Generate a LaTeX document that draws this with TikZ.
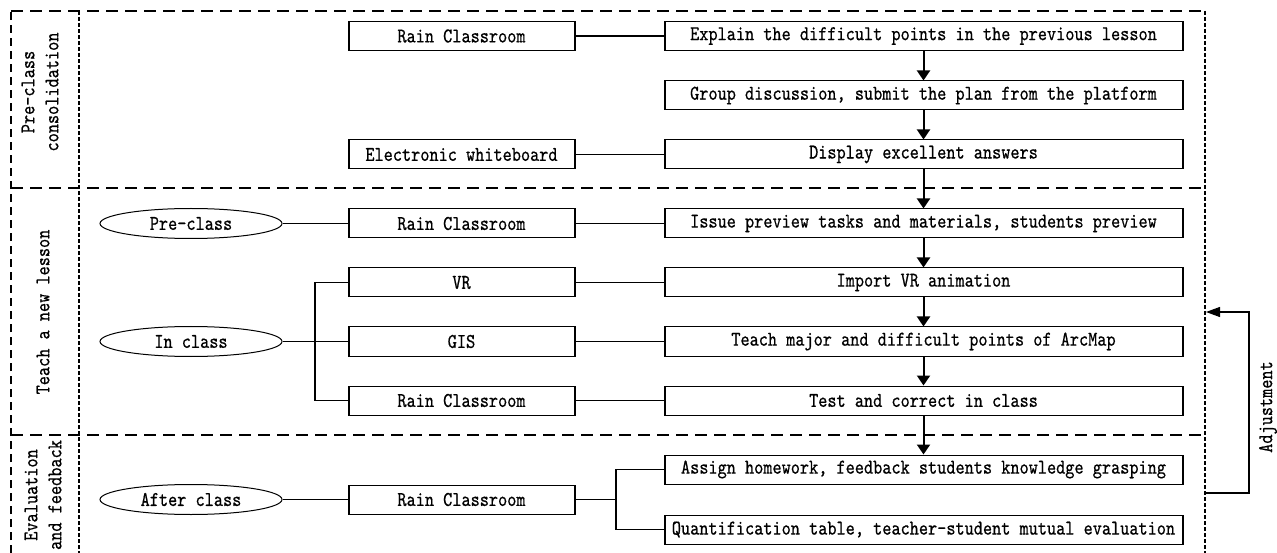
\documentclass[tikz,border=0pt]{standalone}
\usepackage{fontspec}
\usetikzlibrary{shapes.geometric,arrows.meta}
\newfontfamily\simfont[FakeStretch=0.83,FakeBold=0.6]{lmmono10-regular.otf}
\newcommand\simsize{\simfont\fontsize{21}{24}\selectfont}
\tikzset{
  basebox/.style={draw, line width=1pt, minimum height=29pt, inner sep=0pt,
    font=\simsize,
    path picture={\draw[line width=3pt]
      (path picture bounding box.north west) -- (path picture bounding box.south west)
      (path picture bounding box.north east) -- (path picture bounding box.south east);}},
  lbox/.style={basebox, minimum width=227pt},
  rbox/.style={basebox, minimum width=519pt},
  ell/.style={ellipse, draw, line width=1pt, minimum width=182pt, minimum height=30pt, inner sep=0pt,
    font=\simsize},
  conn/.style={line width=1.2pt},
  flow/.style={line width=2pt, -{Triangle[width=13pt,length=10pt]}},
  adjarrow/.style={line width=1.2pt, -{Triangle[width=10pt,length=14pt]}},
  frameline/.style={line width=1.2pt, dash pattern=on 12pt off 7pt},
  sideline/.style={line width=1.2pt, dash pattern=on 8pt off 5pt},
  dotline/.style={line width=2.4pt, dash pattern=on 4pt off 2pt},
  lbl/.style={rotate=90, align=center, font=\simsize, inner sep=0pt}
}
\begin{document}
\begin{tikzpicture}[x=1pt,y=-1pt]
\useasboundingbox (0,0) rectangle (1277,553);
% frame
\coordinate (f1) at (11,553);
\coordinate (f2) at (11,11);
\coordinate (f3) at (1205,11);
\coordinate (f4) at (1205,553);
\coordinate (g1) at (79,11);
\coordinate (g2) at (79,553);
\coordinate (h1) at (11,188);
\coordinate (h2) at (1205,188);
\coordinate (k1) at (11,435);
\coordinate (k2) at (1205,435);
\draw[sideline] (f1) -- (f2);
\draw[frameline] (f2) -- (f3);
\draw[dotline] (f3) -- (f4);
\draw[dotline] (g1) -- (g2);
\draw[frameline] (h1) -- (h2);
\draw[frameline] (k1) -- (k2);
% section labels
\node[lbl] (s1) at (40,92) {Pre-class\\consolidation};
\node[lbl] (s2) at (43,312) {Teach a new lesson};
\node[lbl] (s3) at (43,495) {Evaluation\\and feedback};
% row 1-3
\node[lbox] (l1) at (461.5,36) {Rain Classroom};
\node[rbox] (r1) at (923.5,36) {Explain the difficult points in the previous lesson};
\node[rbox] (r2) at (923.5,95.5) {Group discussion, submit the plan from the platform};
\node[lbox] (l3) at (461.5,154.5) {Electronic whiteboard};
\node[rbox] (r3) at (923.5,154.5) {Display excellent answers};
% rows 4-7
\node[ell] (e4) at (191,223.5) {Pre-class};
\node[lbox] (l4) at (461.5,223.5) {Rain Classroom};
\node[rbox] (r4) at (923.5,223.5) {Issue preview tasks and materials, students preview};
\node[lbox] (l5) at (461.5,282.5) {VR};
\node[rbox] (r5) at (923.5,282.5) {Import VR animation};
\node[ell] (e6) at (191,341.5) {In class};
\node[lbox] (l6) at (461.5,341.5) {GIS};
\node[rbox] (r6) at (923.5,341.5) {Teach major and difficult points of ArcMap};
\node[lbox] (l7) at (461.5,400.5) {Rain Classroom};
\node[rbox] (r7) at (923.5,400.5) {Test and correct in class};
% rows 8-9
\node[rbox] (r8) at (923.5,469.5) {Assign homework, feedback students knowledge grasping};
\node[ell] (e9) at (191,499.5) {After class};
\node[lbox] (l9) at (461.5,499.5) {Rain Classroom};
\node[rbox] (r9) at (923.5,529.5) {Quantification table, teacher-student mutual evaluation};
% horizontal connectors
\draw[conn] (l1) -- (r1);
\draw[conn] (l3) -- (r3);
\draw[conn] (e4) -- (l4);
\draw[conn] (l4) -- (r4);
\draw[conn] (l5) -- (r5);
\draw[conn] (l6) -- (r6);
\draw[conn] (l7) -- (r7);
\coordinate (b1) at (315,341.5);
\draw[conn] (e6) -- (b1);
\draw[conn] (l6.west) -- (b1);
\draw[conn] (l5.west) -| (b1);
\draw[conn] (l7.west) -| (b1);
\coordinate (b2) at (616,499.5);
\draw[conn] (e9) -- (l9);
\draw[conn] (l9) -- (b2);
\draw[conn] (r8.west) -| (b2);
\draw[conn] (r9.west) -| (b2);
% flow arrows
\draw[flow] (r1) -- (r2);
\draw[flow] (r2) -- (r3);
\draw[flow] (r3) -- (r4);
\draw[flow] (r4) -- (r5);
\draw[flow] (r5) -- (r6);
\draw[flow] (r6) -- (r7);
\draw[flow] (r7) -- (r8);
% adjustment loop
\coordinate (a1) at (1205,493);
\coordinate (a2) at (1249,493);
\coordinate (a3) at (1249,312);
\coordinate (a4) at (1206,312);
\draw[adjarrow] (a1) -- (a2) -- (a3) -- (a4);
\node[lbl] (adj) at (1268,407) {Adjustment};
\end{tikzpicture}
\end{document}
